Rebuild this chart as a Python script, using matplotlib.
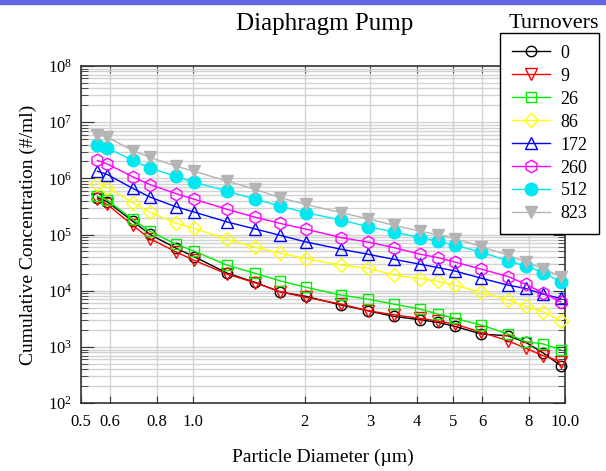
import numpy as np
import matplotlib
matplotlib.use('Agg')
from matplotlib import pyplot as plt
from matplotlib.ticker import FixedLocator, FixedFormatter, LogLocator, NullLocator, NullFormatter
from matplotlib.patches import Rectangle

plt.rcParams['font.family'] = ['Liberation Serif', 'DejaVu Serif']
plt.rcParams['mathtext.fontset'] = 'stix'

# particle diameters (um)
diameter = [0.555, 0.59, 0.69, 0.767, 0.904, 1.008, 1.24, 1.47, 1.72, 2.02, 2.51,
            2.96, 3.47, 4.09, 4.56, 5.06, 5.97, 7.04, 7.85, 8.75, 9.75]

turnovers = ['0', '9', '26', '86', '172', '260', '512', '823']

conc_0 = [4.51e5, 3.83e5, 1.73e5, 1.01e5, 5.69e4, 4.06e4, 2.05e4, 1.42e4, 9.55e3, 7.93e3, 5.56e3,
          4.41e3, 3.50e3, 3.05e3, 2.74e3, 2.33e3, 1.70e3, 1.58e3, 1.21e3, 7.83e2, 4.66e2]
conc_9 = [4.21e5, 3.43e5, 1.46e5, 8.46e4, 4.90e4, 3.49e4, 1.97e4, 1.39e4, 9.55e3, 7.60e3, 5.78e3,
          4.41e3, 3.74e3, 3.23e3, 2.89e3, 2.56e3, 1.82e3, 1.29e3, 9.48e2, 7.01e2, 5.48e2]
conc_26 = [4.82e5, 4.09e5, 1.86e5, 1.15e5, 6.70e4, 5.10e4, 2.84e4, 2.05e4, 1.50e4, 1.15e4, 8.36e3,
           7.10e3, 5.78e3, 4.72e3, 3.85e3, 3.23e3, 2.45e3, 1.70e3, 1.24e3, 1.13e3, 8.96e2]
conc_86 = [8.09e5, 6.87e5, 3.68e5, 2.51e5, 1.58e5, 1.29e5, 8.22e4, 5.98e4, 4.64e4, 3.74e4, 2.84e4,
           2.52e4, 1.91e4, 1.65e4, 1.47e4, 1.26e4, 9.33e3, 6.90e3, 5.27e3, 4.23e3, 2.92e3]
conc_172 = [1.34e6, 1.17e6, 6.65e5, 4.66e5, 3.10e5, 2.52e5, 1.67e5, 1.26e5, 9.68e4, 7.36e4, 5.47e4,
            4.46e4, 3.63e4, 2.96e4, 2.59e4, 2.25e4, 1.67e4, 1.26e4, 1.10e4, 8.71e3, 7.30e3]
conc_260 = [2.08e6, 1.80e6, 1.07e6, 7.76e5, 5.33e5, 4.26e5, 2.80e5, 2.04e5, 1.58e5, 1.24e5, 8.81e4,
            7.36e4, 5.86e4, 4.46e4, 3.89e4, 3.25e4, 2.42e4, 1.79e4, 1.31e4, 9.06e3, 6.35e3]
conc_512 = [3.97e6, 3.47e6, 2.09e6, 1.53e6, 1.08e6, 8.59e5, 5.90e5, 4.28e5, 3.20e5, 2.44e5, 1.81e5,
            1.38e5, 1.11e5, 8.81e4, 7.67e4, 6.44e4, 4.90e4, 3.39e4, 2.76e4, 2.11e4, 1.44e4]
conc_823 = [5.98e6, 5.44e6, 3.11e6, 2.37e6, 1.64e6, 1.34e6, 8.89e5, 6.41e5, 4.51e5, 3.43e5, 2.44e5,
            1.91e5, 1.46e5, 1.15e5, 9.88e4, 8.46e4, 6.10e4, 4.28e4, 3.25e4, 2.48e4, 1.79e4]

x_ticks = [0.5, 0.6, 0.8, 1.0, 2, 3, 4, 5, 6, 8, 10.0]
x_tick_labels = ['0.5', '0.6', '0.8', '1.0', '2', '3', '4', '5', '6', '8', '10.0']

series = [conc_0, conc_9, conc_26, conc_86, conc_172, conc_260, conc_512, conc_823]
colors = ['black', 'red', '#00ee00', '#ffff00', 'blue', '#ff00ff', '#00e8f0', '#b4b4b4']
markers = ['o', 'v', 's', 'D', '^', 'h', 'o', 'v']
filled = [False, False, False, False, False, False, True, True]
msizes = [7.5, 8, 7.5, 7, 8.5, 9, 9, 9]

fig = plt.figure(figsize=(6.06, 4.71), dpi=100)
ax = fig.add_axes([0.133, 0.144, 0.932 - 0.133, 0.860 - 0.144])

# top colour band
fig.patches.append(Rectangle((0, 1 - 4 / 471), 1, 4 / 471, transform=fig.transFigure,
                             color='#6464e6', zorder=0))

for vals, lab, c, m, f, ms in zip(series, turnovers, colors, markers, filled, msizes):
    ax.plot(diameter, vals, color=c, lw=1.0, marker=m, ms=ms,
            mfc=c if f else 'none', mec=c, mew=1.0, label=lab, clip_on=False, zorder=3)

ax.set_xscale('log')
ax.set_yscale('log')
ax.set_xlim(0.5, 10.0)
ax.set_ylim(1e2, 1e8)

ax.xaxis.set_major_locator(FixedLocator(x_ticks))
ax.xaxis.set_major_formatter(FixedFormatter(x_tick_labels))
ax.xaxis.set_minor_locator(NullLocator())
ax.xaxis.set_minor_formatter(NullFormatter())
ax.yaxis.set_major_locator(LogLocator(base=10, numticks=10))
ax.yaxis.set_minor_locator(LogLocator(base=10, subs=np.arange(2, 10), numticks=20))
ax.yaxis.set_minor_formatter(NullFormatter())

ax.grid(True, which='major', color='#d2d2d2', lw=1.0, zorder=0)
ax.grid(True, which='minor', axis='y', color='#d2d2d2', lw=1.0, zorder=0)
ax.set_axisbelow(True)

ax.tick_params(which='both', direction='in', top=True, right=True, labelsize=12, color='#333333')
ax.tick_params(axis='x', which='major', length=5, pad=8)
ax.tick_params(axis='y', which='major', length=9, pad=6)
ax.tick_params(axis='y', which='minor', length=5)
for sp in ax.spines.values():
    sp.set_linewidth(1.2)
    sp.set_color('#333333')

ax.set_xlabel('Particle Diameter (\u00b5m)', fontsize=14, labelpad=13)
ax.set_ylabel('Cumulative Concentration (#/ml)', fontsize=14, labelpad=8)

fig.text(325 / 606, 1 - 24 / 471, 'Diaphragm Pump', fontsize=18, ha='center', va='center')
fig.text(554 / 606, 1 - 24 / 471, 'Turnovers', fontsize=16, ha='center', va='center')

leg = fig.legend(loc='upper left', bbox_to_anchor=(500 / 606, 1 - 33 / 471),
                 bbox_transform=fig.transFigure, fontsize=13, frameon=True,
                 fancybox=False, framealpha=1, edgecolor='black', borderaxespad=0,
                 handlelength=2.1, handletextpad=0.6, labelspacing=0.33,
                 borderpad=0.65)
leg.get_frame().set_linewidth(1.0)

fig.savefig('out.png', dpi=100)
